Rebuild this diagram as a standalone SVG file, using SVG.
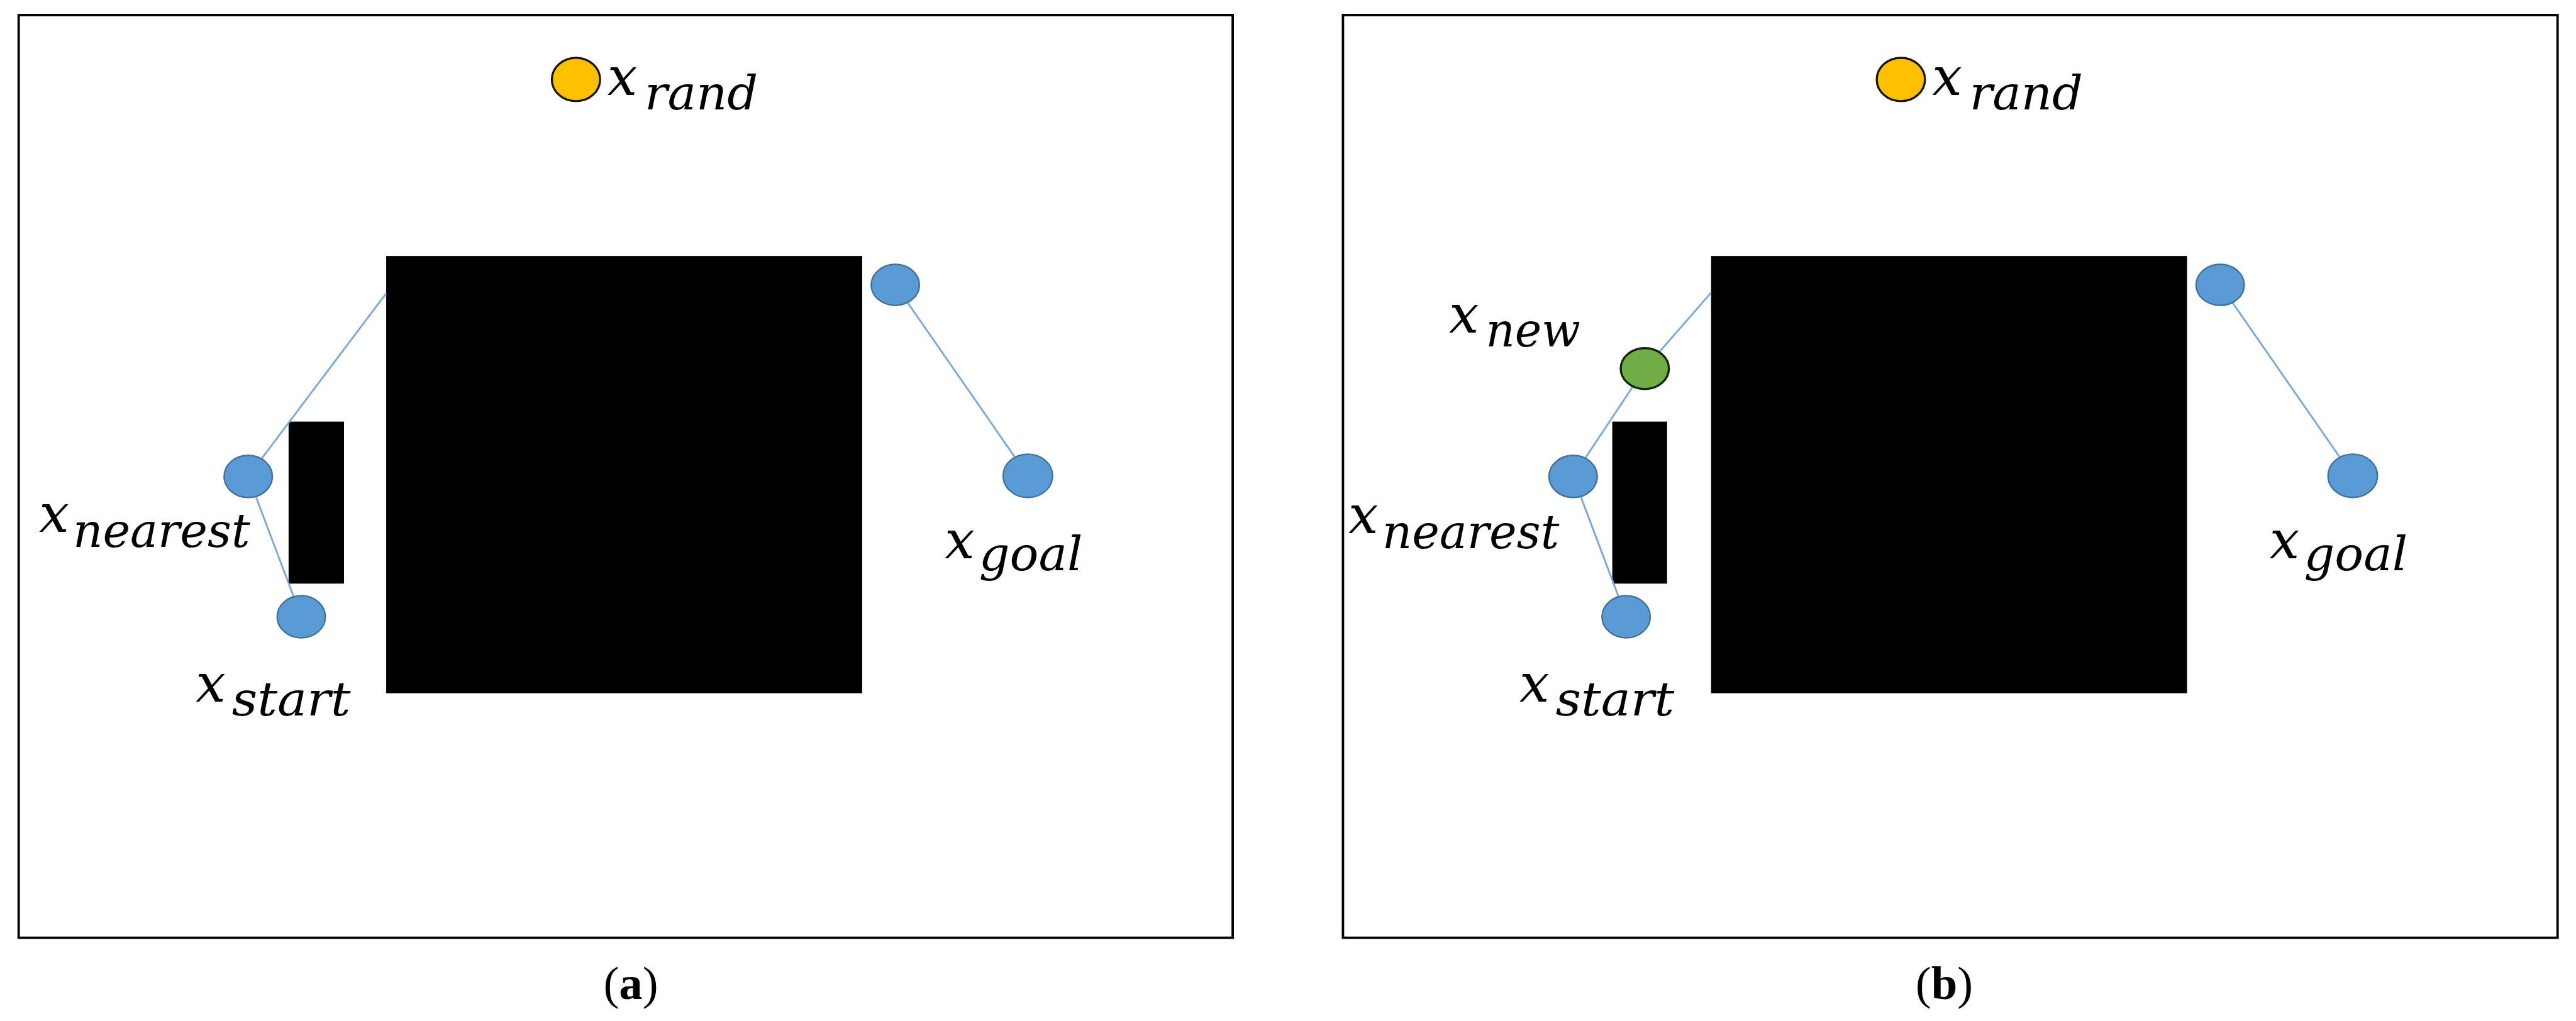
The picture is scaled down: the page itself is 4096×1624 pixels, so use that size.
<svg xmlns="http://www.w3.org/2000/svg" width="4096" height="1624" viewBox="0 0 4096 1624">
<style>
.frame{fill:none;stroke:#000;stroke-width:4}
.obs{fill:#000}
.edge{stroke:#7fa7d6;stroke-width:3;fill:none}
.blue{fill:#5b9bd5;stroke:#41719c;stroke-width:2.5}
.rand{fill:#ffc000;stroke:#1a1400;stroke-width:3.5}
.new{fill:#70ad47;stroke:#142209;stroke-width:3.5}
.lbl{font-family:"DejaVu Serif","Liberation Serif",serif;font-style:italic;fill:#000}
.main{font-size:88px}
.sub{font-size:78px}
.cap{font-family:"Liberation Serif","Times New Roman",serif;font-size:78px;fill:#000}
</style>
<rect x="0" y="0" width="4096" height="1624" fill="#fff"/>
<g transform="scale(0.958)">
  <!-- Panel (a) -->
  <g id="panel-a">
    <rect id="frame-a" class="frame" x="31" y="25" width="2015" height="1532"/>
    <rect id="obstacle-big-a" class="obs" x="641" y="425" width="790" height="726"/>
    <rect id="obstacle-small-a" class="obs" x="479" y="700" width="92" height="269"/>
    <g id="connectors-a">
      <line class="edge" x1="412" y1="791" x2="641" y2="487"/>
      <line class="edge" x1="412" y1="791" x2="500" y2="1024"/>
      <line class="edge" x1="1486" y1="473" x2="1706" y2="790"/>
    </g>
    <g id="node-rand-a">
      <ellipse class="rand" cx="956" cy="132" rx="40" ry="36"/>
      <text class="lbl"><tspan class="main" x="1008" y="158">x</tspan><tspan class="sub" x="1070" y="182" textLength="188" lengthAdjust="spacingAndGlyphs">rand</tspan></text>
    </g>
    <g id="node-nearest-a">
      <ellipse class="blue" cx="412" cy="791" rx="40" ry="35"/>
      <text class="lbl"><tspan class="main" x="65" y="883">x</tspan><tspan class="sub" x="121" y="908" textLength="294" lengthAdjust="spacingAndGlyphs">nearest</tspan></text>
    </g>
    <g id="node-start-a">
      <ellipse class="blue" cx="500" cy="1024" rx="40" ry="35"/>
      <text class="lbl"><tspan class="main" x="325" y="1165">x</tspan><tspan class="sub" x="385" y="1188" textLength="197" lengthAdjust="spacingAndGlyphs">start</tspan></text>
    </g>
    <g id="node-tree-a">
      <ellipse class="blue" cx="1486" cy="473" rx="40" ry="34"/>
    </g>
    <g id="node-goal-a">
      <ellipse class="blue" cx="1706" cy="790" rx="41" ry="36"/>
      <text class="lbl"><tspan class="main" x="1568" y="927">x</tspan><tspan class="sub" x="1625" y="947" textLength="172" lengthAdjust="spacingAndGlyphs">goal</tspan></text>
    </g>
    <text id="caption-a" class="cap" x="1047" y="1659" text-anchor="middle">(<tspan font-weight="bold">a</tspan>)</text>
  </g>

  <!-- Panel (b) -->
  <g id="panel-b">
    <rect id="frame-b" class="frame" x="2229" y="25" width="2016" height="1532"/>
    <rect id="obstacle-big-b" class="obs" x="2840" y="425" width="790" height="726"/>
    <rect id="obstacle-small-b" class="obs" x="2676" y="700" width="91" height="269"/>
    <g id="connectors-b">
      <line class="edge" x1="2611" y1="791" x2="2730" y2="612"/>
      <line class="edge" x1="2730" y1="612" x2="2840" y2="486"/>
      <line class="edge" x1="2611" y1="791" x2="2699" y2="1024"/>
      <line class="edge" x1="3685" y1="473" x2="3905" y2="790"/>
    </g>
    <g id="node-rand-b">
      <ellipse class="rand" cx="3155" cy="132" rx="40" ry="36"/>
      <text class="lbl"><tspan class="main" x="3207" y="158">x</tspan><tspan class="sub" x="3269" y="182" textLength="188" lengthAdjust="spacingAndGlyphs">rand</tspan></text>
    </g>
    <g id="node-new-b">
      <ellipse class="new" cx="2730" cy="612" rx="40" ry="34"/>
      <text class="lbl"><tspan class="main" x="2405" y="552">x</tspan><tspan class="sub" x="2466" y="575" textLength="157" lengthAdjust="spacingAndGlyphs">new</tspan></text>
    </g>
    <g id="node-nearest-b">
      <ellipse class="blue" cx="2611" cy="791" rx="40" ry="35"/>
      <text class="lbl"><tspan class="main" x="2238" y="885">x</tspan><tspan class="sub" x="2294" y="910" textLength="294" lengthAdjust="spacingAndGlyphs">nearest</tspan></text>
    </g>
    <g id="node-start-b">
      <ellipse class="blue" cx="2699" cy="1024" rx="40" ry="35"/>
      <text class="lbl"><tspan class="main" x="2522" y="1165">x</tspan><tspan class="sub" x="2582" y="1188" textLength="197" lengthAdjust="spacingAndGlyphs">start</tspan></text>
    </g>
    <g id="node-tree-b">
      <ellipse class="blue" cx="3685" cy="473" rx="40" ry="34"/>
    </g>
    <g id="node-goal-b">
      <ellipse class="blue" cx="3905" cy="790" rx="41" ry="36"/>
      <text class="lbl"><tspan class="main" x="3767" y="927">x</tspan><tspan class="sub" x="3824" y="947" textLength="172" lengthAdjust="spacingAndGlyphs">goal</tspan></text>
    </g>
    <text id="caption-b" class="cap" x="3227" y="1659" text-anchor="middle">(<tspan font-weight="bold">b</tspan>)</text>
  </g>
</g>
</svg>
